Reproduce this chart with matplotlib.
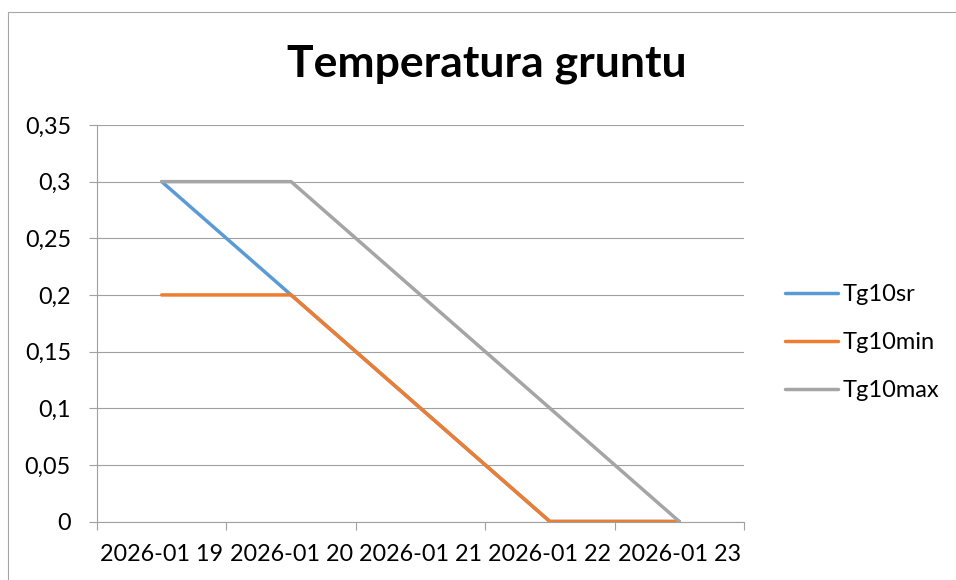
import matplotlib
matplotlib.use("Agg")
import matplotlib.pyplot as plt
from matplotlib.patches import Rectangle
from matplotlib.ticker import FixedLocator, NullFormatter

categories = ["2026-01 19", "2026-01 20", "2026-01 21", "2026-01 22", "2026-01 23"]
tg10sr = [0.3, 0.2, 0.1, 0.0, 0.0]
tg10min = [0.2, 0.2, 0.1, 0.0, 0.0]
tg10max = [0.3, 0.3, 0.2, 0.1, 0.0]
y_ticks = [0, 0.05, 0.1, 0.15, 0.2, 0.25, 0.3, 0.35]
y_labels = ["0", "0,05", "0,1", "0,15", "0,2", "0,25", "0,3", "0,35"]

plt.rcParams['font.family'] = ['Lato', 'DejaVu Sans']

W, H = 956, 580
fig = plt.figure(figsize=(W / 100, H / 100), dpi=100)

# outer chart border
fig.patches.append(Rectangle((8 / W, -0.1), 1.2, 1 - 12 / H + 0.1, transform=fig.transFigure,
                             fill=False, edgecolor='#a6a6a6', linewidth=0.8))

left, right, top, bottom = 97, 744, 125, 521.5
ax = fig.add_axes([left / W, 1 - bottom / H, (right - left) / W, (bottom - top) / H])

x = list(range(len(categories)))
ax.plot(x, tg10sr, color='#5B9BD5', linewidth=2.5, label='Tg10sr', solid_capstyle='round', zorder=3)
ax.plot(x, tg10min, color='#ED7D31', linewidth=2.5, label='Tg10min', solid_capstyle='round', zorder=4)
ax.plot(x, tg10max, color='#A5A5A5', linewidth=2.5, label='Tg10max', solid_capstyle='round', zorder=5)

ax.set_xlim(-0.5, len(categories) - 0.5)
ax.set_ylim(0, 0.35)

grid_c = '#a0a0a0'
ax.set_yticks(y_ticks)
ax.set_yticklabels(y_labels)
ax.yaxis.grid(True, color=grid_c, linewidth=0.8)
ax.set_axisbelow(True)

ax.xaxis.set_major_locator(FixedLocator([i - 0.5 for i in range(len(categories) + 1)]))
ax.xaxis.set_major_formatter(NullFormatter())
ax.xaxis.set_minor_locator(FixedLocator(x))
ax.set_xticklabels(categories, minor=True)

for s in ['top', 'right']:
    ax.spines[s].set_visible(False)
for s in ['left', 'bottom']:
    ax.spines[s].set_color(grid_c)
    ax.spines[s].set_linewidth(0.8)

ax.tick_params(axis='y', length=5.8, color=grid_c, width=0.8, pad=13, labelsize=16.8)
ax.tick_params(axis='x', which='major', length=5.8, color=grid_c, width=0.8)
ax.tick_params(axis='x', which='minor', length=0, pad=16, labelsize=16.8)

fig.text(487 / W, 1 - 64 / H, "Temperatura gruntu", ha='center', va='center',
         fontsize=32, fontweight='bold')

leg = ax.legend(loc='upper left', bbox_to_anchor=(785 / W, 1 - 284 / H), bbox_transform=fig.transFigure,
                frameon=False, fontsize=17, handlelength=2.25, handletextpad=0.2,
                labelspacing=1.15, borderpad=0, borderaxespad=0)

fig.savefig("out.png", dpi=100)
